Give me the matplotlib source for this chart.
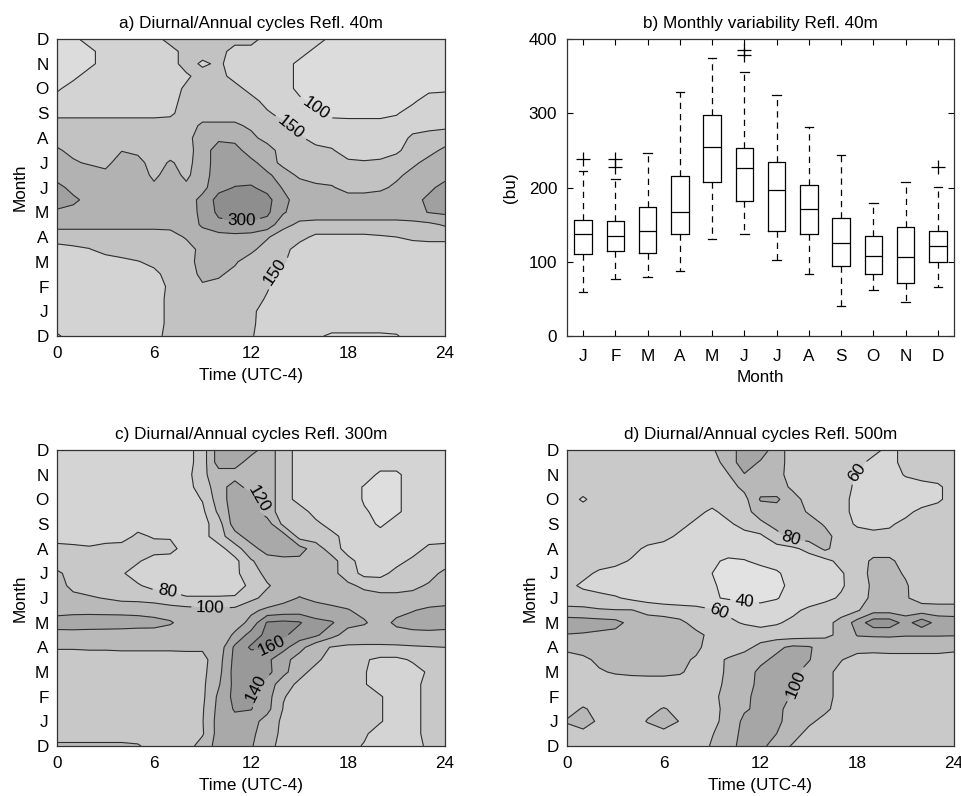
import numpy as np
import matplotlib
matplotlib.use("Agg")
import matplotlib.pyplot as plt

plt.rcParams['font.family'] = ['Liberation Sans', 'DejaVu Sans']
plt.rcParams['font.size'] = 12.3

# ---------------- data ----------------
month_labels = ['D', 'J', 'F', 'M', 'A', 'M', 'J', 'J', 'A', 'S', 'O', 'N', 'D']
box_months = ['J', 'F', 'M', 'A', 'M', 'J', 'J', 'A', 'S', 'O', 'N', 'D']

# grids: hours 0..24 (step 1), months 0..12 (step 0.5); rows listed from top (m=12) to bottom (m=0)
hours = np.arange(0, 25, 1)
months = np.arange(0, 12.5, 0.5)

# panel a: reflectivity at 40 m
refl40_rows = [
    [85, 85, 125, 125, 125, 125, 125, 175, 175, 175, 175, 175, 175, 125, 125, 125, 125, 85, 85, 85, 85, 85, 85, 85, 85],
    [85, 85, 85, 125, 125, 125, 125, 125, 175, 175, 175, 125, 125, 125, 125, 125, 85, 85, 85, 85, 85, 85, 85, 85, 85],
    [85, 85, 85, 125, 125, 125, 125, 125, 175, 140, 160, 125, 125, 125, 125, 85, 85, 85, 85, 85, 85, 85, 85, 85, 85],
    [85, 85, 125, 125, 125, 125, 125, 125, 140, 175, 175, 125, 125, 125, 125, 85, 85, 85, 85, 85, 85, 85, 85, 85, 85],
    [90, 125, 125, 125, 125, 125, 125, 125, 160, 175, 175, 175, 125, 125, 125, 85, 85, 85, 85, 85, 85, 85, 85, 85, 90],
    [125, 125, 125, 125, 125, 125, 125, 125, 175, 175, 175, 175, 175, 125, 125, 110, 85, 85, 85, 85, 85, 85, 90, 125, 125],
    [135, 135, 135, 135, 135, 135, 135, 140, 175, 175, 175, 175, 175, 160, 125, 125, 110, 85, 85, 85, 85, 95, 125, 125, 125],
    [175, 175, 175, 175, 175, 175, 175, 175, 175, 210, 210, 210, 190, 175, 165, 125, 125, 125, 120, 120, 120, 125, 130, 135, 140],
    [185, 180, 180, 180, 185, 185, 180, 180, 185, 225, 240, 235, 215, 180, 175, 160, 125, 125, 125, 125, 125, 125, 160, 170, 175],
    [205, 190, 180, 180, 198, 190, 180, 180, 180, 225, 275, 270, 225, 225, 175, 175, 170, 155, 125, 125, 125, 140, 175, 185, 210],
    [225, 205, 195, 185, 225, 215, 180, 205, 185, 225, 275, 275, 265, 225, 185, 175, 175, 175, 160, 155, 160, 175, 190, 215, 225],
    [230, 225, 225, 215, 225, 225, 190, 220, 190, 230, 275, 280, 280, 260, 225, 190, 180, 175, 175, 175, 180, 190, 215, 225, 235],
    [265, 235, 225, 225, 225, 225, 210, 225, 210, 235, 285, 302, 305, 285, 245, 225, 210, 205, 180, 180, 190, 210, 225, 240, 265],
    [265, 260, 235, 225, 225, 225, 225, 225, 225, 265, 318, 330, 330, 315, 265, 225, 225, 225, 225, 225, 225, 225, 235, 260, 275],
    [245, 235, 225, 225, 225, 225, 225, 225, 230, 260, 312, 325, 325, 310, 255, 225, 225, 225, 225, 225, 225, 225, 235, 252, 260],
    [215, 215, 215, 215, 215, 215, 215, 215, 220, 258, 285, 290, 290, 280, 215, 190, 185, 185, 185, 185, 185, 185, 185, 190, 205],
    [175, 175, 175, 175, 175, 175, 175, 180, 205, 225, 230, 235, 230, 205, 175, 165, 140, 140, 140, 140, 145, 150, 160, 165, 165],
    [130, 140, 148, 165, 170, 175, 175, 175, 180, 215, 225, 225, 210, 180, 165, 130, 125, 125, 125, 125, 125, 125, 125, 125, 125],
    [125, 125, 125, 130, 140, 148, 160, 175, 185, 215, 220, 205, 180, 175, 155, 125, 125, 125, 125, 125, 125, 125, 125, 125, 125],
    [125, 125, 125, 125, 125, 125, 140, 165, 180, 210, 205, 190, 175, 160, 130, 125, 125, 125, 125, 125, 125, 125, 125, 125, 125],
    [125, 125, 125, 125, 125, 125, 125, 160, 180, 195, 190, 180, 175, 155, 125, 125, 125, 125, 125, 125, 125, 125, 125, 125, 125],
    [125, 125, 125, 125, 125, 125, 125, 165, 175, 180, 180, 175, 170, 145, 125, 125, 125, 125, 125, 125, 125, 125, 125, 125, 125],
    [125, 125, 125, 125, 125, 125, 125, 165, 175, 175, 175, 175, 160, 130, 125, 125, 125, 125, 125, 125, 125, 125, 125, 125, 125],
    [120, 125, 125, 125, 125, 125, 125, 165, 175, 175, 175, 175, 160, 125, 125, 125, 118, 115, 115, 115, 115, 118, 125, 125, 125],
    [95, 115, 125, 125, 125, 125, 135, 165, 175, 175, 175, 175, 155, 125, 125, 115, 105, 95, 95, 95, 95, 97, 115, 125, 125],
]

# panel c: reflectivity at 300 m
refl300_rows = [
    [72, 72, 72, 72, 72, 72, 72, 72, 72, 90, 130, 130, 128, 110, 90, 72, 72, 72, 72, 72, 72, 72, 72, 72, 72],
    [72, 72, 72, 72, 72, 72, 72, 72, 72, 90, 130, 130, 110, 110, 90, 72, 72, 72, 72, 72, 72, 72, 72, 72, 72],
    [72, 72, 72, 72, 72, 72, 72, 72, 72, 96, 110, 110, 110, 110, 90, 72, 72, 72, 72, 72, 55, 55, 72, 72, 72],
    [72, 72, 72, 72, 72, 72, 72, 72, 72, 90, 110, 130, 110, 110, 90, 72, 72, 72, 72, 58, 55, 55, 72, 72, 72],
    [72, 72, 72, 72, 72, 72, 72, 72, 72, 81, 110, 130, 130, 110, 90, 72, 72, 72, 72, 58, 55, 55, 72, 72, 72],
    [72, 72, 72, 72, 72, 72, 72, 72, 72, 76, 104, 130, 130, 110, 90, 90, 72, 72, 72, 62, 55, 55, 72, 72, 72],
    [72, 72, 72, 72, 72, 72, 72, 72, 72, 72, 92, 130, 130, 130, 95, 90, 85, 72, 72, 72, 55, 72, 72, 72, 72],
    [72, 72, 72, 72, 72, 84, 78, 78, 72, 72, 92, 112, 130, 130, 130, 92, 90, 86, 72, 72, 72, 72, 72, 72, 72],
    [86, 84, 82, 86, 88, 88, 88, 86, 72, 72, 72, 92, 112, 130, 130, 128, 110, 90, 72, 72, 72, 72, 72, 84, 86],
    [88, 90, 90, 88, 86, 82, 72, 72, 72, 72, 72, 74, 98, 110, 115, 115, 112, 108, 86, 72, 72, 74, 84, 88, 92],
    [104, 92, 90, 88, 82, 72, 72, 72, 72, 72, 72, 76, 90, 106, 112, 112, 110, 106, 90, 74, 74, 86, 90, 94, 104],
    [106, 96, 92, 90, 86, 82, 74, 74, 74, 74, 74, 76, 82, 98, 108, 112, 114, 112, 104, 96, 92, 92, 96, 102, 108],
    [108, 104, 102, 99, 95, 94, 92, 86, 81, 81, 81, 81, 95, 106, 114, 121, 116, 114, 112, 108, 106, 106, 106, 108, 110],
    [112, 114, 114, 114, 114, 114, 112, 110, 108, 106, 104, 106, 116, 124, 128, 130, 128, 124, 121, 115, 112, 114, 119, 124, 126],
    [130, 131, 132, 131, 130, 128, 126, 122, 112, 108, 108, 110, 126, 162, 165, 162, 146, 142, 126, 122, 112, 124, 128, 130, 130],
    [112, 112, 110, 110, 110, 110, 112, 110, 108, 106, 104, 124, 148, 166, 164, 150, 144, 126, 112, 110, 110, 112, 114, 114, 112],
    [102, 102, 103, 103, 104, 104, 104, 104, 104, 103, 108, 144, 163, 162, 146, 128, 106, 99, 97, 97, 97, 97, 98, 99, 100],
    [90, 90, 90, 90, 90, 90, 90, 90, 92, 94, 112, 146, 148, 144, 128, 110, 104, 92, 88, 82, 76, 76, 82, 86, 88],
    [90, 90, 90, 90, 90, 90, 90, 90, 92, 95, 114, 148, 150, 146, 126, 106, 94, 90, 86, 81, 74, 72, 74, 82, 86],
    [90, 90, 90, 90, 90, 90, 90, 90, 92, 96, 118, 146, 145, 132, 108, 96, 90, 88, 85, 81, 74, 72, 76, 84, 88],
    [90, 90, 90, 90, 90, 90, 90, 90, 92, 96, 124, 146, 144, 128, 101, 94, 90, 88, 86, 84, 81, 74, 76, 84, 88],
    [90, 90, 90, 90, 90, 90, 90, 90, 92, 98, 126, 142, 141, 126, 99, 94, 90, 88, 86, 84, 81, 74, 76, 84, 88],
    [90, 90, 90, 90, 90, 90, 90, 90, 92, 99, 128, 134, 128, 112, 96, 92, 90, 88, 86, 84, 81, 74, 76, 84, 88],
    [90, 90, 90, 90, 90, 90, 90, 90, 92, 98, 128, 130, 125, 108, 96, 92, 90, 86, 84, 82, 74, 72, 76, 84, 88],
    [104, 104, 104, 104, 104, 102, 92, 90, 92, 108, 128, 130, 122, 106, 94, 92, 90, 86, 84, 79, 74, 72, 76, 82, 88],
]

# panel d: reflectivity at 500 m
refl500_rows = [
    [70, 70, 70, 70, 70, 70, 70, 70, 70, 78, 90, 110, 110, 90, 70, 70, 70, 70, 70, 70, 50, 70, 70, 70, 70],
    [70, 70, 70, 70, 70, 70, 70, 70, 70, 70, 90, 110, 98, 90, 70, 70, 70, 70, 70, 50, 50, 70, 70, 70, 70],
    [70, 70, 70, 70, 70, 70, 70, 70, 70, 70, 79, 99, 100, 88, 70, 72, 72, 66, 58, 50, 50, 62, 70, 70, 70],
    [70, 70, 70, 70, 70, 70, 70, 70, 70, 70, 72, 85, 92, 90, 76, 70, 70, 70, 55, 50, 50, 50, 50, 56, 70],
    [70, 57, 70, 70, 70, 70, 70, 70, 70, 70, 70, 74, 102, 103, 88, 72, 70, 68, 52, 50, 50, 50, 52, 56, 70],
    [70, 70, 70, 70, 70, 70, 70, 70, 66, 56, 68, 74, 88, 92, 88, 78, 70, 66, 54, 50, 52, 56, 64, 70, 70],
    [70, 70, 70, 70, 70, 70, 70, 66, 56, 52, 56, 68, 76, 86, 90, 88, 78, 66, 58, 56, 58, 64, 70, 70, 70],
    [70, 70, 70, 70, 70, 70, 66, 56, 52, 50, 50, 52, 56, 74, 86, 90, 86, 72, 66, 64, 64, 66, 70, 70, 70],
    [70, 70, 70, 70, 66, 56, 52, 50, 48, 46, 46, 48, 50, 52, 56, 66, 84, 70, 70, 70, 70, 70, 70, 70, 70],
    [70, 70, 70, 66, 58, 52, 50, 48, 46, 42, 38, 39, 44, 46, 48, 50, 54, 66, 70, 84, 84, 72, 70, 70, 70],
    [70, 66, 56, 52, 50, 48, 46, 44, 42, 40, 34, 32, 33, 38, 46, 50, 54, 58, 70, 86, 86, 78, 70, 70, 70],
    [66, 56, 52, 50, 48, 46, 44, 42, 42, 42, 35, 32, 33, 36, 44, 48, 52, 58, 68, 84, 86, 82, 70, 70, 70],
    [72, 70, 66, 62, 56, 52, 48, 46, 44, 42, 38, 36, 36, 39, 46, 50, 56, 62, 72, 84, 86, 82, 72, 70, 70],
    [84, 84, 82, 81, 81, 74, 72, 70, 68, 62, 56, 50, 46, 48, 56, 64, 68, 72, 78, 92, 92, 90, 90, 90, 90],
    [112, 110, 108, 106, 94, 90, 88, 84, 74, 68, 64, 58, 54, 58, 64, 68, 74, 86, 108, 132, 132, 112, 132, 112, 110],
    [99, 98, 96, 94, 92, 90, 88, 86, 84, 76, 74, 72, 70, 70, 70, 72, 76, 84, 101, 102, 102, 101, 101, 101, 101],
    [86, 88, 90, 90, 90, 90, 90, 90, 84, 72, 70, 74, 86, 96, 104, 102, 92, 90, 88, 88, 90, 90, 90, 90, 86],
    [70, 76, 84, 86, 86, 86, 86, 84, 78, 74, 82, 90, 96, 104, 108, 101, 90, 81, 72, 70, 70, 70, 70, 70, 70],
    [70, 72, 78, 82, 84, 84, 84, 82, 74, 70, 84, 92, 104, 108, 104, 94, 86, 74, 70, 70, 70, 70, 70, 70, 70],
    [70, 70, 70, 70, 70, 72, 72, 72, 70, 74, 84, 94, 104, 108, 102, 92, 86, 74, 70, 70, 70, 70, 70, 70, 70],
    [70, 70, 70, 70, 70, 70, 72, 70, 70, 76, 86, 96, 106, 104, 99, 92, 86, 74, 70, 70, 70, 70, 70, 70, 70],
    [72, 82, 74, 70, 70, 76, 81, 76, 70, 74, 86, 98, 104, 104, 94, 90, 84, 72, 70, 70, 70, 70, 70, 70, 70],
    [82, 90, 76, 70, 72, 81, 90, 79, 70, 74, 88, 104, 112, 104, 92, 84, 74, 70, 70, 70, 70, 70, 70, 70, 70],
    [70, 74, 70, 70, 70, 72, 74, 72, 70, 79, 90, 106, 108, 100, 88, 74, 70, 70, 70, 70, 70, 70, 70, 70, 70],
    [70, 70, 70, 70, 70, 70, 70, 70, 70, 82, 92, 108, 106, 90, 78, 70, 70, 70, 70, 70, 70, 70, 70, 70, 70],
]

# panel b: box statistics (bu)
whisker_low = [59, 77, 79, 88, 130, 138, 103, 83, 40, 62, 46, 66]
q1 = [111, 115, 112, 137, 208, 182, 142, 137, 94, 83, 71, 99]
median = [137, 135, 142, 167, 254, 226, 197, 171, 125, 108, 106, 121]
q3 = [156, 155, 174, 215, 297, 253, 235, 203, 159, 135, 147, 142]
whisker_high = [222, 211, 247, 328, 375, 356, 324, 281, 244, 179, 208, 201]
outliers = [[239], [239, 228], [], [], [], [385, 378], [], [], [], [], [], [228]]

# ---------------- drawing ----------------
W, H = 962, 796
fig = plt.figure(figsize=(W / 100, H / 100), dpi=100)

def ax_at(x0, x1, y0, y1):
    return fig.add_axes([x0 / W, 1 - y1 / H, (x1 - x0) / W, (y1 - y0) / H])

ax_a = ax_at(57, 445, 39, 336)
ax_b = ax_at(567, 954, 39, 336)
ax_c = ax_at(57, 445, 450, 746)
ax_d = ax_at(567, 954, 450, 746)

line_col = '#2e2e2e'
FS = 12.3

def style_frame(ax):
    for s in ax.spines.values():
        s.set_color('#333333')
        s.set_linewidth(0.9)

def contour_panel(ax, rows, levels, colors, title, label_pos):
    z = np.array(rows, dtype=float)[::-1]
    fill_levels = [-1000] + list(levels) + [10000]
    ax.contourf(hours, months, z, levels=fill_levels, colors=colors)
    cs = ax.contour(hours, months, z, levels=levels, colors=line_col, linewidths=0.8)
    ax.clabel(cs, manual=label_pos, inline=True, fmt='%d', fontsize=FS, colors='k')
    ax.set_xlim(0, 24)
    ax.set_ylim(0, 12)
    ax.set_xticks([0, 6, 12, 18, 24])
    ax.set_yticks(np.arange(13))
    ax.set_yticklabels(month_labels)
    ax.tick_params(length=0, labelsize=FS)
    ax.tick_params(axis='x', pad=7)
    ax.tick_params(axis='y', pad=6)
    ax.set_xlabel('Time (UTC-4)', fontsize=FS, labelpad=5)
    ax.set_ylabel('Month', fontsize=FS, labelpad=5)
    ax.set_title(title, fontsize=FS, pad=8)
    style_frame(ax)

contour_panel(ax_a, refl40_rows, [100, 150, 200, 250, 300],
              ['#dcdcdc', '#d3d3d3', '#c2c2c2', '#b2b2b2', '#a0a0a0', '#8e8e8e'],
              'a) Diurnal/Annual cycles Refl. 40m',
              [(15.9, 9.1), (14.3, 8.3), (11.4, 4.7), (13.9, 2.3)])

contour_panel(ax_c, refl300_rows, [60, 80, 100, 120, 140, 160],
              ['#dedede', '#d4d4d4', '#c8c8c8', '#b9b9b9', '#a9a9a9', '#999999', '#8a8a8a'],
              'c) Diurnal/Annual cycles Refl. 300m',
              [(6.8, 6.25), (9.5, 5.6), (12.6, 10.0), (13.5, 3.9), (12.7, 2.3)])

contour_panel(ax_d, refl500_rows, [40, 60, 80, 100, 120],
              ['#e2e2e2', '#d7d7d7', '#c9c9c9', '#b8b8b8', '#a6a6a6', '#969696'],
              'd) Diurnal/Annual cycles Refl. 500m',
              [(18.1, 11.0), (13.9, 8.45), (11.0, 5.75), (9.4, 5.45), (14.2, 2.5)])

# panel b
stats = []
for i in range(12):
    stats.append(dict(med=median[i], q1=q1[i], q3=q3[i], whislo=whisker_low[i],
                      whishi=whisker_high[i], fliers=outliers[i]))
ax_b.bxp(stats, positions=np.arange(1, 13), widths=0.55, capwidths=0.27,
         boxprops=dict(color='k', linewidth=0.9),
         medianprops=dict(color='k', linewidth=0.9),
         whiskerprops=dict(color='k', linewidth=0.9, linestyle=(0, (5, 4))),
         capprops=dict(color='k', linewidth=0.9),
         flierprops=dict(marker='+', markersize=10, markeredgecolor='k', markeredgewidth=0.9, linestyle='none'))
ax_b.set_xlim(0.5, 12.5)
ax_b.set_ylim(0, 400)
ax_b.set_xticks(np.arange(1, 13))
ax_b.set_xticklabels(box_months)
ax_b.set_yticks([0, 100, 200, 300, 400])
ax_b.tick_params(direction='in', top=True, right=True, length=4, labelsize=FS)
ax_b.tick_params(axis='x', pad=9)
ax_b.tick_params(axis='y', pad=7)
ax_b.set_xlabel('Month', fontsize=FS, labelpad=5)
ax_b.set_ylabel('(bu)', fontsize=FS, labelpad=8)
ax_b.set_title('b) Monthly variability Refl. 40m', fontsize=FS, pad=8)
style_frame(ax_b)

fig.savefig('out.png', dpi=100, facecolor='white')
